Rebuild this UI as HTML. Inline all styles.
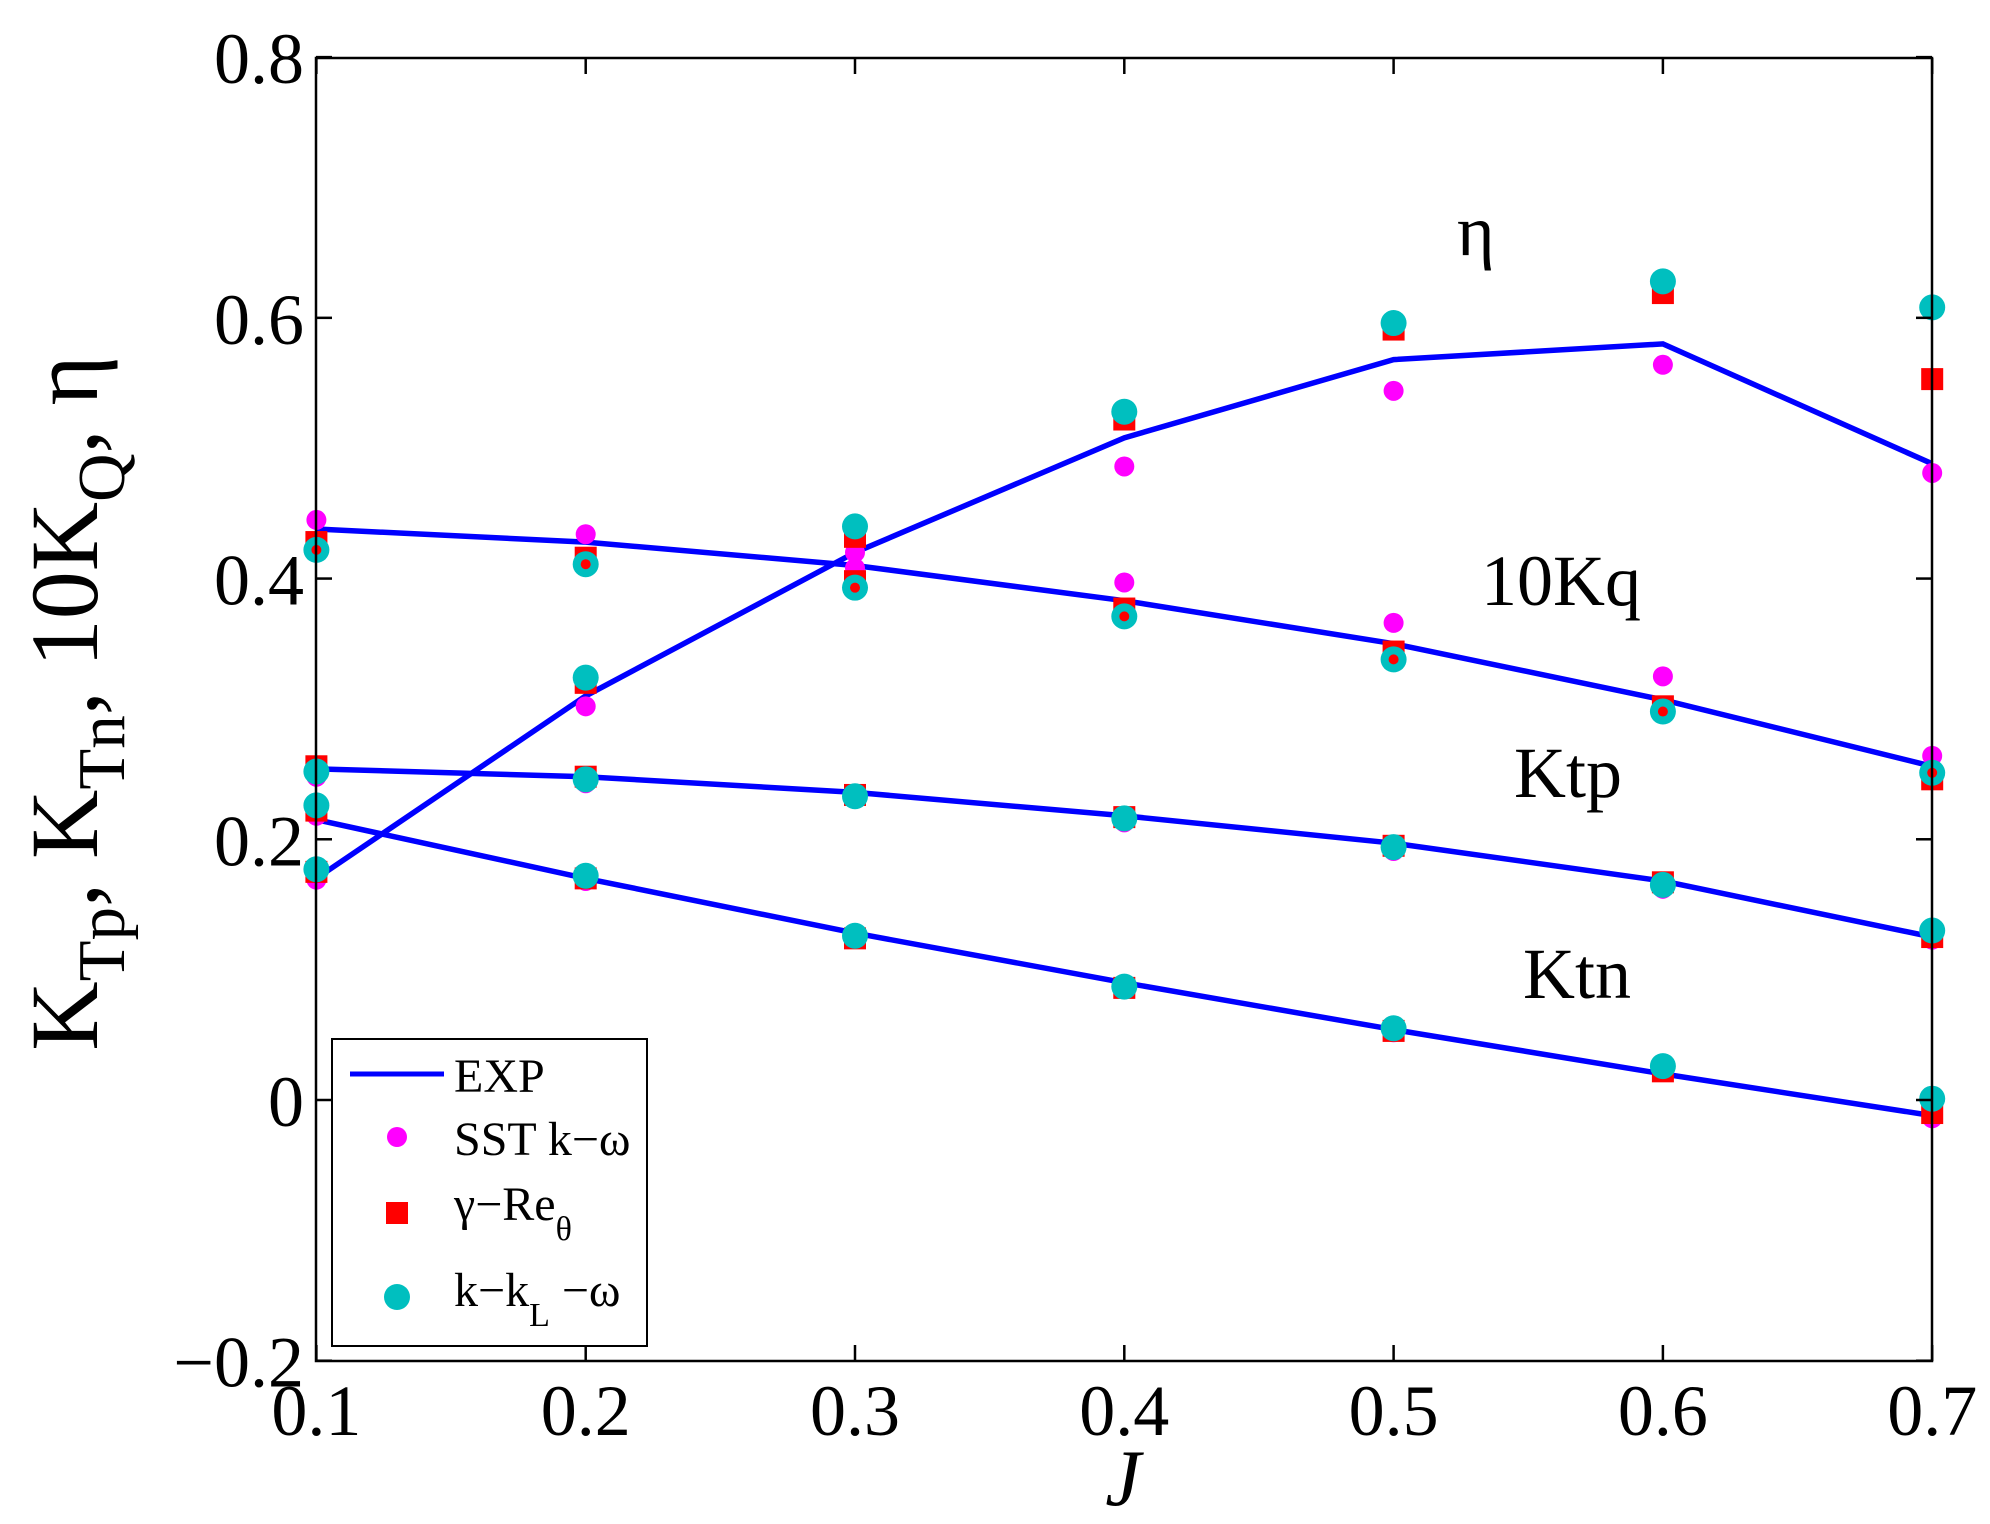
<!DOCTYPE html>
<html><head><meta charset="utf-8"><style>html,body{margin:0;padding:0;background:#fff}svg{display:block}</style></head>
<body>
<svg id="s" xmlns="http://www.w3.org/2000/svg" width="1990" height="1524" viewBox="0 0 1990 1524" font-family="'Liberation Serif', serif">
<rect width="1990" height="1524" fill="#fff"/>
<g id="data"></g>
<rect x="316" y="58" width="1616" height="1303" fill="none" stroke="#000" stroke-width="2.5"/>
<g id="ticks" stroke="#000" stroke-width="2.5"></g>
<g id="labels" font-size="72" fill="#000"></g>
<text x="1457" y="255" font-size="72">η</text>
<text x="1481" y="605" font-size="72">10Kq</text>
<text x="1514" y="797" font-size="72">Ktp</text>
<text x="1523" y="998" font-size="72">Ktn</text>
<text x="1123" y="1505" font-size="80" font-style="italic" text-anchor="middle">J</text>
<text transform="translate(97,703) rotate(-90)" font-size="96" text-anchor="middle">K<tspan font-size="67" dy="27">Tp</tspan><tspan dy="-27">, K</tspan><tspan font-size="67" dy="27">Tn</tspan><tspan dy="-27">, 10K</tspan><tspan font-size="67" dy="27">Q</tspan><tspan dy="-27">, η</tspan></text>
<g id="legend">
<rect x="332" y="1039" width="315" height="307" fill="#fff" stroke="#000" stroke-width="2"/>
<line x1="350" y1="1074" x2="444" y2="1074" stroke="#0000ff" stroke-width="5"/>
<text x="454" y="1092" font-size="48">EXP</text>
<circle cx="397" cy="1137" r="10" fill="#ff00ff"/>
<text x="454" y="1155" font-size="48">SST k−ω</text>
<rect x="386" y="1202" width="22" height="22" fill="#ff0000"/>
<text x="454" y="1220" font-size="48">γ−Re<tspan font-size="34" dy="20">θ</tspan></text>
<circle cx="397" cy="1297" r="13" fill="#00bfbf"/>
<text x="454" y="1306" font-size="48">k−k<tspan font-size="34" dy="20">L</tspan><tspan dy="-20"> −ω</tspan></text>
</g>
</svg>
<script>
var NS="http://www.w3.org/2000/svg";
function X(j){return 316.4+(j-0.1)/0.1*269.3;}
function Y(v){return 1100-v*1303.6;}
function el(p,t,a){var e=document.createElementNS(NS,t);for(var k in a)e.setAttribute(k,a[k]);p.appendChild(e);return e;}
var J=[0.1,0.2,0.3,0.4,0.5,0.6,0.7];
var d=document.getElementById("data");
var exp={
eta:[0.17,0.31,0.42,0.508,0.568,0.58,0.488],
kq:[0.438,0.428,0.41,0.383,0.35,0.307,0.256],
ktp:[0.254,0.248,0.236,0.218,0.197,0.168,0.125],
ktn:[0.215,0.17,0.128,0.09,0.054,0.02,-0.012]};
var sst={eta:[0.169,0.302,0.42,0.486,0.544,0.564,0.481],kq:[0.445,0.434,0.408,0.397,0.366,0.325,0.264],
ktp:[0.248,0.243,0.232,0.213,0.191,0.162,0.123],ktn:[0.218,0.168,0.124,0.085,0.052,0.022,-0.014]};
var red={eta:[0.175,0.32,0.432,0.522,0.591,0.619,0.553],kq:[0.428,0.416,0.398,0.377,0.344,0.302,0.246],
ktp:[0.256,0.248,0.234,0.217,0.195,0.167,0.125],ktn:[0.222,0.17,0.124,0.086,0.053,0.022,-0.01]};
var cy={eta:[0.177,0.324,0.44,0.528,0.596,0.628,0.608],kq:[0.422,0.411,0.393,0.371,0.338,0.298,0.251],
ktp:[0.252,0.246,0.233,0.216,0.194,0.165,0.13],ktn:[0.226,0.172,0.126,0.087,0.055,0.026,0.001]};
["eta","kq","ktp","ktn"].forEach(function(k){
 var pts=J.map(function(j,i){return X(j).toFixed(1)+","+Y(exp[k][i]).toFixed(1)}).join(" ");
 el(d,"polyline",{points:pts,fill:"none",stroke:"#0000ff","stroke-width":5.5});
});
["eta","kq","ktp","ktn"].forEach(function(k){
 J.forEach(function(j,i){el(d,"circle",{cx:X(j),cy:Y(sst[k][i]),r:10,fill:"#ff00ff"});});
});
["eta","kq","ktp","ktn"].forEach(function(k){
 J.forEach(function(j,i){el(d,"rect",{x:X(j)-11,y:Y(red[k][i])-11,width:22,height:22,fill:"#ff0000"});});
});
["eta","kq","ktp","ktn"].forEach(function(k){
 J.forEach(function(j,i){el(d,"circle",{cx:X(j),cy:Y(cy[k][i]),r:13,fill:"#00bfbf"});
  if(k=="kq")el(d,"circle",{cx:X(j),cy:Y(cy[k][i]),r:5,fill:"#ff0000"});});
});
var t=document.getElementById("ticks"),L=document.getElementById("labels");
J.forEach(function(j){var x=X(j);
 el(t,"line",{x1:x,y1:1361,x2:x,y2:1345});el(t,"line",{x1:x,y1:58,x2:x,y2:74});
 var e=el(L,"text",{x:x,y:1435,"text-anchor":"middle"});e.textContent=j.toFixed(1);});
[-0.2,0,0.2,0.4,0.6,0.8].forEach(function(v){var y=Y(v);
 el(t,"line",{x1:316,y1:y,x2:332,y2:y});el(t,"line",{x1:1932,y1:y,x2:1916,y2:y});
 var e=el(L,"text",{x:304,y:y+26,"text-anchor":"end"});
 e.textContent=v==0?"0":(v<0?"−0.2":v.toFixed(1));});
</script>
</body></html>
